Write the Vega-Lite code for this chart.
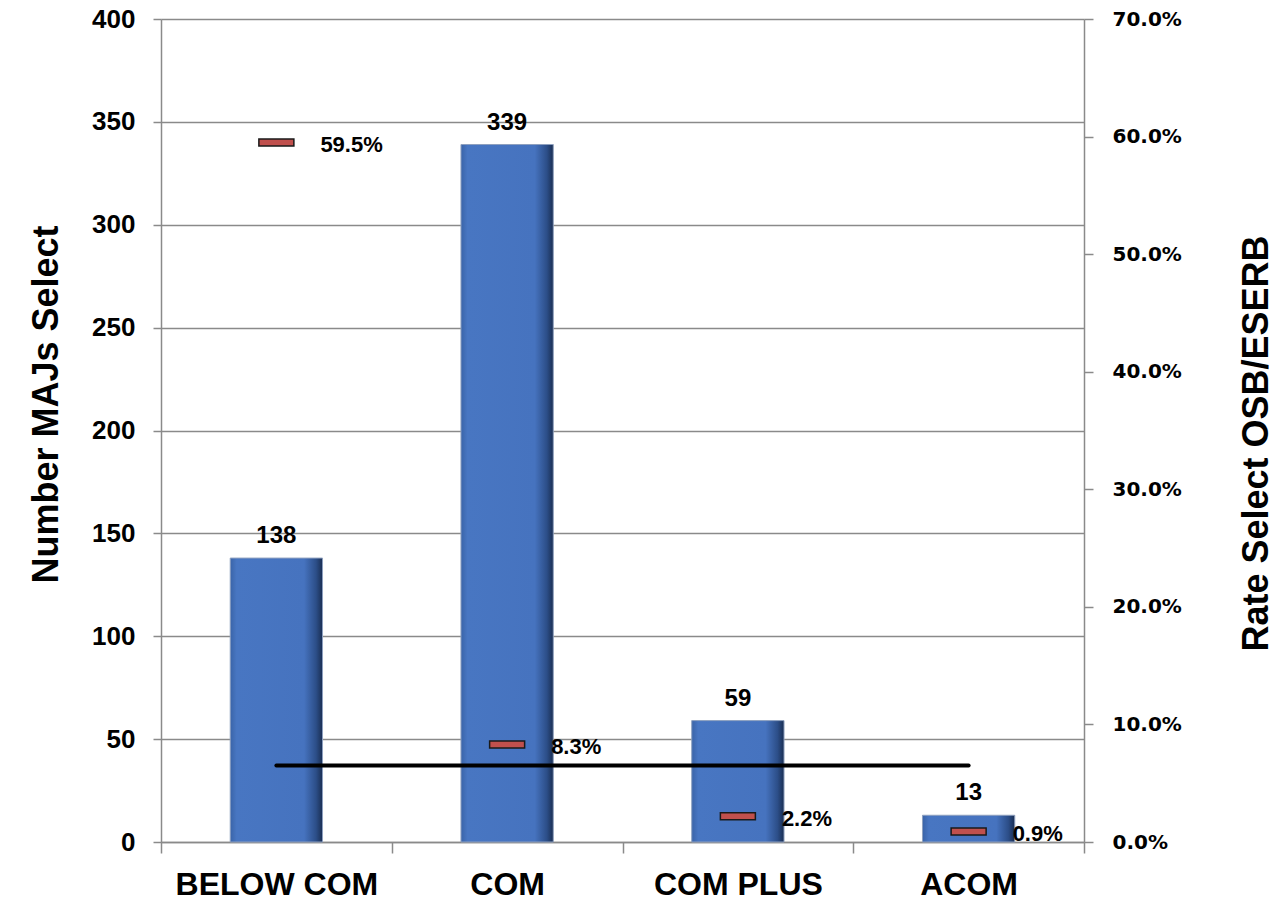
{
  "$schema": "https://vega.github.io/schema/vega-lite/v6.json",
  "width": 923,
  "height": 823,
  "autosize": "none",
  "padding": {"left": 161, "top": 19, "right": 192, "bottom": 58},
  "background": "white",
  "config": {
    "view": {"stroke": null},
    "font": "Liberation Sans",
    "axis": {"labelColor": "#000000", "titleColor": "#000000", "labelFontWeight": "bold", "titleFontWeight": "bold"}
  },
  "data": {
    "values": [
      {"cat": "BELOW COM", "count": 138, "rate": 0.595, "avg": 0.065},
      {"cat": "COM", "count": 339, "rate": 0.083, "avg": 0.065},
      {"cat": "COM PLUS", "count": 59, "rate": 0.022, "avg": 0.065},
      {"cat": "ACOM", "count": 13, "rate": 0.009, "avg": 0.065}
    ]
  },
  "encoding": {
    "x": {
      "field": "cat",
      "type": "nominal",
      "sort": null,
      "scale": {"paddingInner": 0, "paddingOuter": 0},
      "axis": {
        "title": null,
        "labelAngle": 0,
        "labelLimit": 0,
        "labelFont": "Liberation Sans",
        "labelFontSize": 32,
        "labelBaseline": "alphabetic",
        "labelPadding": 41,
        "tickBand": "extent",
        "tickSize": 11,
        "tickWidth": 1.5,
        "tickColor": "#8a8a8a",
        "domainColor": "#8a8a8a",
        "domainWidth": 1.5,
        "grid": false
      }
    }
  },
  "layer": [
    {
      "encoding": {
        "y": {
          "field": "count",
          "type": "quantitative",
          "scale": {"domain": [0, 400], "nice": false},
          "axis": {
            "orient": "left",
            "values": [0, 50, 100, 150, 200, 250, 300, 350, 400],
            "grid": true,
            "gridColor": "#8a8a8a",
            "gridWidth": 1.5,
            "domainColor": "#8a8a8a",
            "domainWidth": 1.5,
            "tickColor": "#8a8a8a",
            "tickWidth": 1.5,
            "tickSize": 8,
            "labelFontSize": 26,
            "labelPadding": 18,
            "title": "Number MAJs Select",
            "titleFontSize": 36,
            "titleAngle": 270,
            "titleBaseline": "alphabetic",
            "titleAlign": "center",
            "titleX": -104,
            "titleY": 385
          }
        }
      },
      "layer": [
        {
          "mark": {
            "type": "bar",
            "width": {"band": 0.4},
            "fill": {
              "gradient": "linear",
              "x1": 0, "y1": 0, "x2": 1, "y2": 0,
              "stops": [
                {"offset": 0, "color": "#3a64a8"},
                {"offset": 0.07, "color": "#4876c2"},
                {"offset": 0.8, "color": "#4673bf"},
                {"offset": 0.93, "color": "#2c4e88"},
                {"offset": 1, "color": "#1a2e52"}
              ]
            },
            "stroke": "#8ea0bf",
            "strokeWidth": 1
          }
        },
        {
          "mark": {
            "type": "text",
            "font": "Liberation Sans",
            "fontWeight": "bold",
            "fontSize": 24,
            "baseline": "alphabetic",
            "dy": -15,
            "color": "#000000"
          },
          "encoding": {"text": {"field": "count", "type": "quantitative"}}
        }
      ]
    },
    {
      "layer": [
        {
          "mark": {
            "type": "tick",
            "size": 35,
            "thickness": 7,
            "color": "#c0504d",
            "stroke": "#1a1a1a",
            "strokeWidth": 1.5,
            "opacity": 1
          },
          "encoding": {
            "y": {
              "field": "rate",
              "type": "quantitative",
              "scale": {"domain": [0, 0.7], "nice": false},
              "axis": {
                "orient": "right",
                "values": [0, 0.1, 0.2, 0.3, 0.4, 0.5, 0.6, 0.7],
                "format": ".1%",
                "grid": false,
                "domainColor": "#8a8a8a",
                "domainWidth": 1.5,
                "tickColor": "#8a8a8a",
                "tickWidth": 1.5,
                "tickSize": 9,
                "labelFont": "DejaVu Sans",
                "labelFontSize": 20,
                "labelPadding": 19,
                "title": "Rate Select OSB/ESERB",
                "titleFont": "Liberation Sans",
                "titleFontSize": 36,
                "titleAngle": 270,
                "titleBaseline": "alphabetic",
                "titleAlign": "center",
                "titleX": 183,
                "titleY": 424
              }
            }
          }
        },
        {
          "mark": {
            "type": "text",
            "font": "Liberation Sans",
            "fontWeight": "bold",
            "fontSize": 22,
            "align": "left",
            "baseline": "alphabetic",
            "dx": 44,
            "dy": 10,
            "color": "#000000"
          },
          "encoding": {
            "y": {"field": "rate", "type": "quantitative"},
            "text": {"field": "rate", "type": "quantitative", "format": ".1%"}
          }
        },
        {
          "mark": {"type": "line", "color": "#000000", "strokeWidth": 4, "strokeCap": "round"},
          "encoding": {
            "y": {"field": "avg", "type": "quantitative"}
          }
        }
      ]
    }
  ],
  "resolve": {"scale": {"y": "independent"}}
}
